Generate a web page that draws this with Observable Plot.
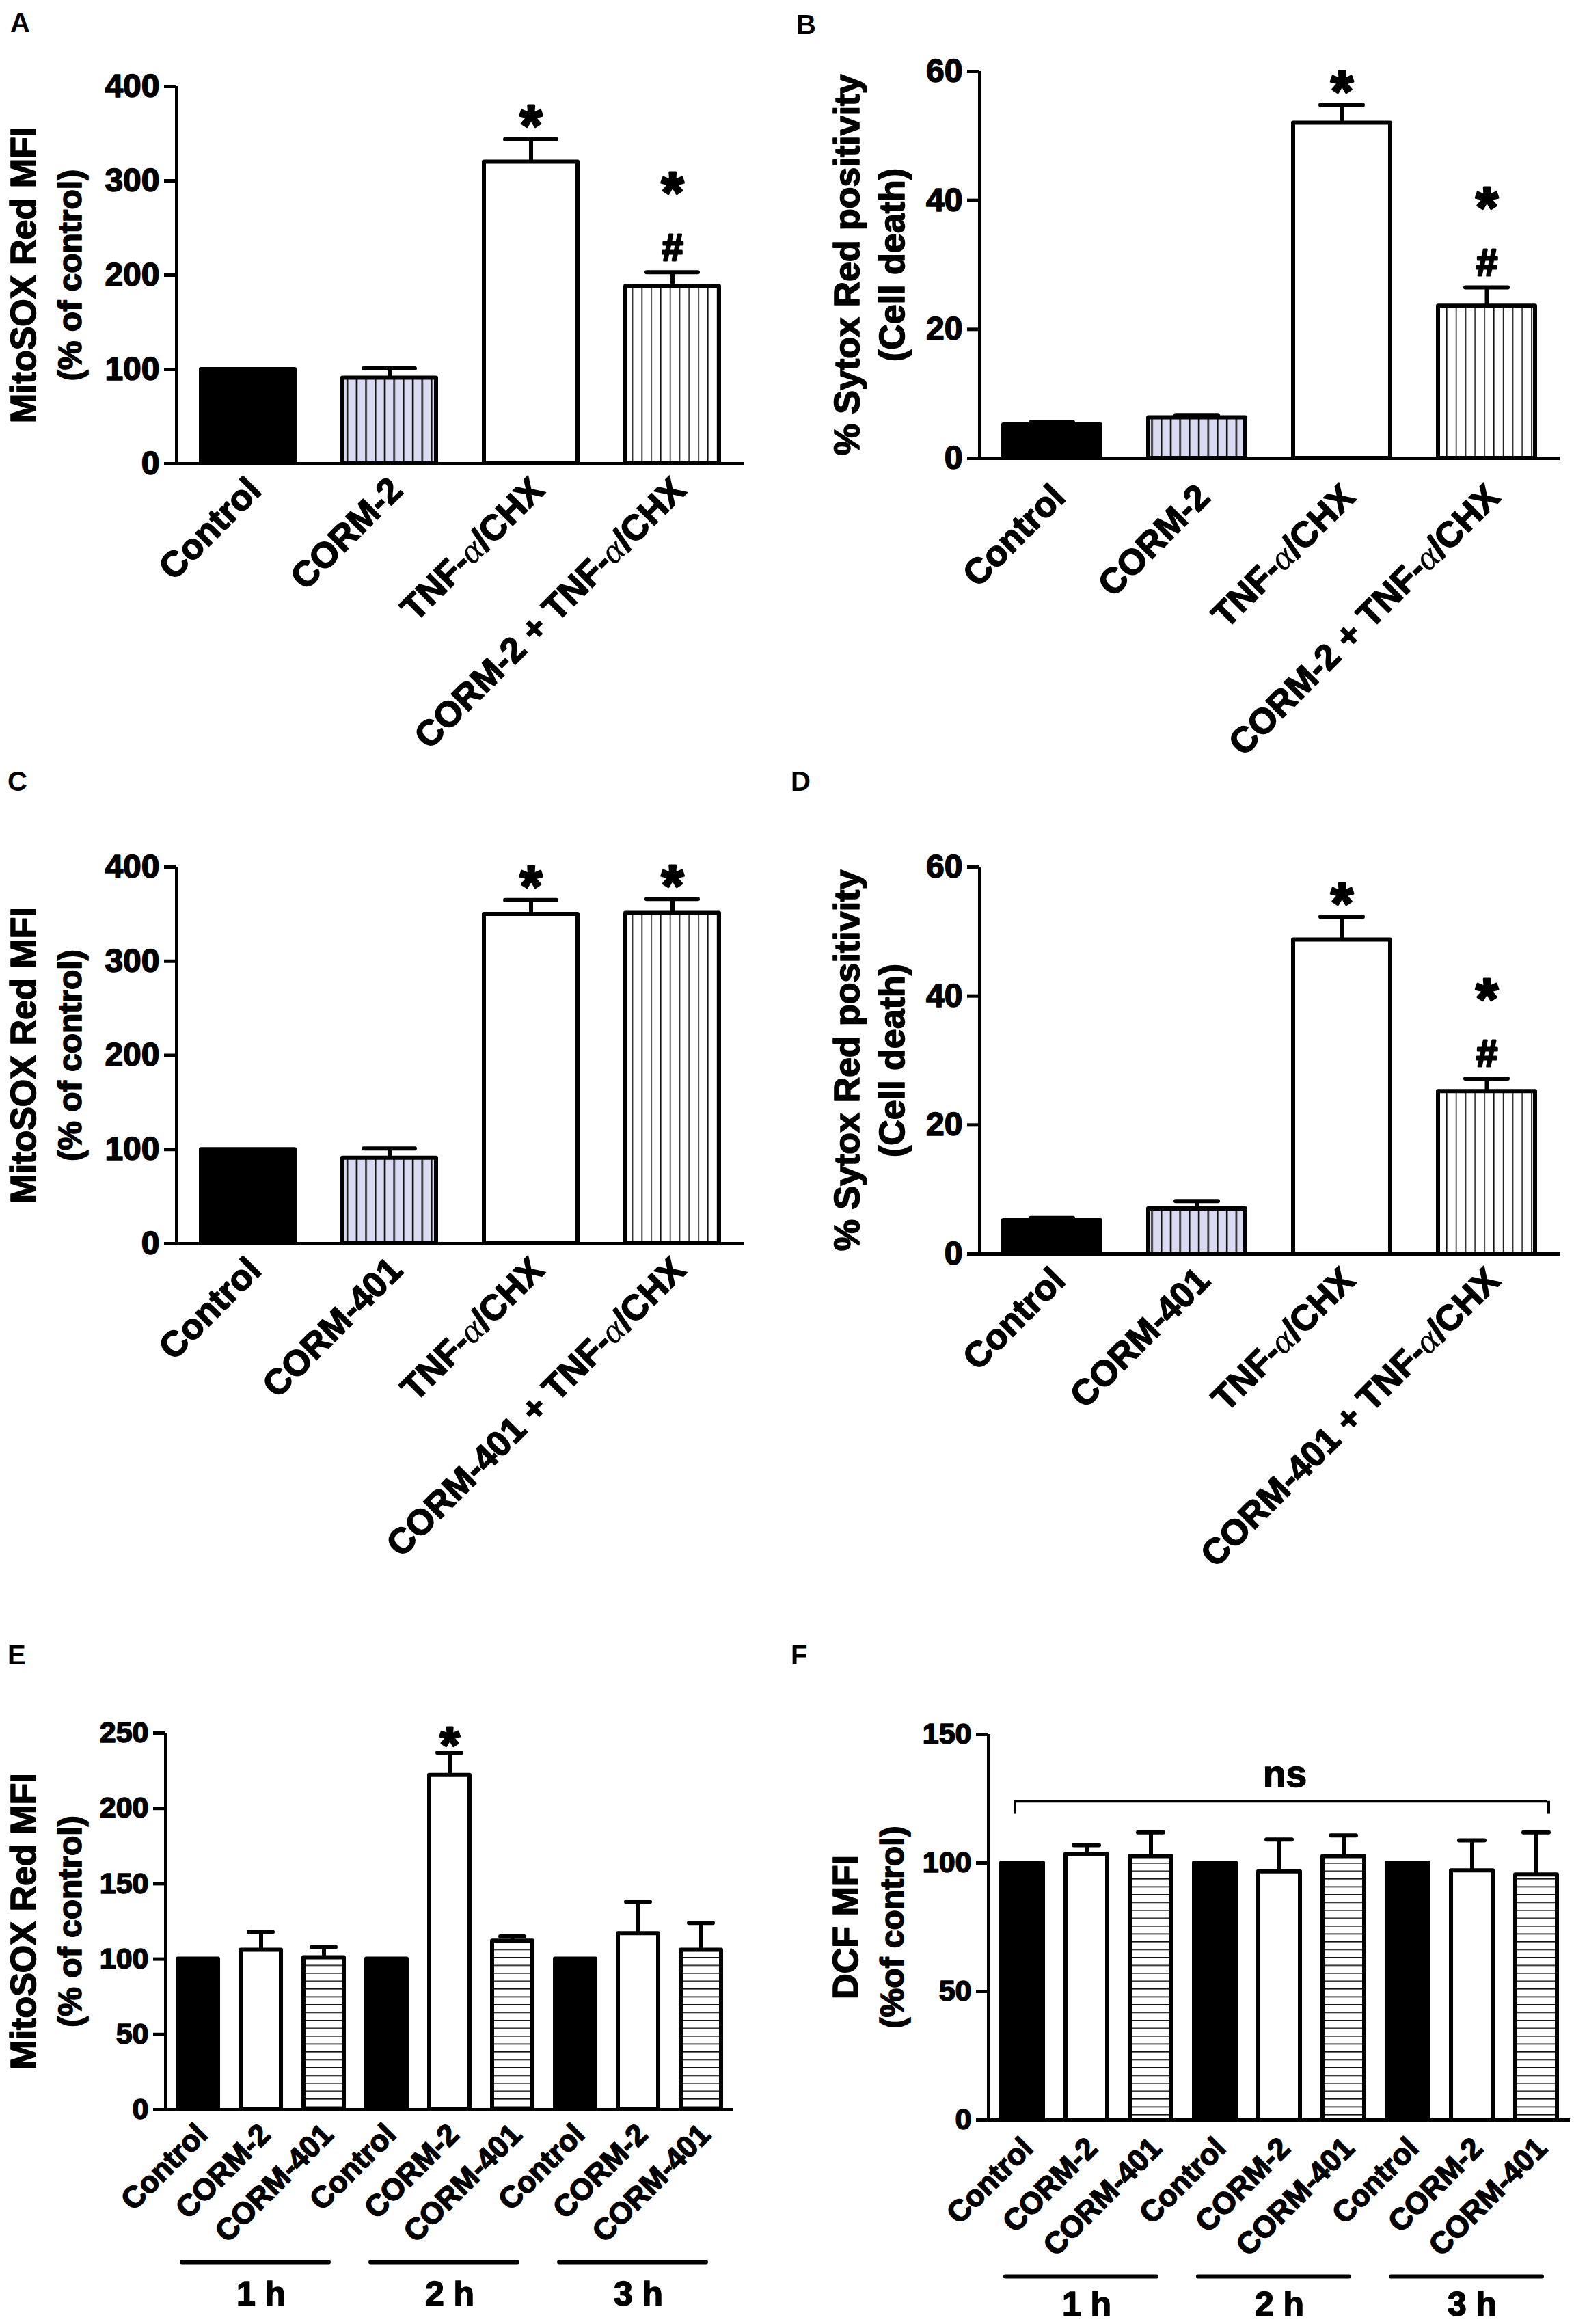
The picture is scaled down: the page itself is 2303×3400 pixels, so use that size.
<!DOCTYPE html>
<html>
<head>
<meta charset="utf-8">
<script src="https://cdn.jsdelivr.net/npm/d3@7"></script>
<script src="https://cdn.jsdelivr.net/npm/@observablehq/plot@0.6"></script>
<style>
  html, body { margin: 0; padding: 0; background: #fff; }
  #page { position: relative; width: 2303px; height: 3400px; background: #fff; overflow: hidden;
          font-family: "Liberation Sans", Arial, sans-serif; }
  .panel { position: absolute; }
  .letter { position: absolute; font-weight: bold; font-size: 40px; line-height: 1; color: #000; }
</style>
</head>
<body>
<svg width="0" height="0" style="position:absolute">
  <defs>
    <pattern id="vLav" patternUnits="userSpaceOnUse" width="13.7" height="20">
      <rect width="13.7" height="20" fill="#dadaf2"></rect>
      <rect x="0" y="0" width="2.5" height="20" fill="#111"></rect>
    </pattern>
    <pattern id="vWhite" patternUnits="userSpaceOnUse" width="13.8" height="20">
      <rect width="13.8" height="20" fill="#fff"></rect>
      <rect x="0" y="0" width="1.6" height="20" fill="#111"></rect>
    </pattern>
    <pattern id="hWhite" patternUnits="userSpaceOnUse" width="20" height="11.5">
      <rect width="20" height="11.5" fill="#fff"></rect>
      <rect x="0" y="0" width="20" height="1.6" fill="#111"></rect>
    </pattern>
  </defs>
</svg>
<div id="page"></div>
<script>
// ---------------- data ----------------
const catsA = ["Control", "CORM-2", "TNF-α/CHX", "CORM-2 + TNF-α/CHX"];
const meanA = [100, 91, 320, 188];
const errA  = [0, 10, 24, 15];
const sigA  = [[], [], ["*"], ["#", "*"]];   // listed bottom to top
const ticksA = [0, 100, 200, 300, 400];

const catsB = ["Control", "CORM-2", "TNF-α/CHX", "CORM-2 + TNF-α/CHX"];
const meanB = [5.2, 6.3, 52, 23.6];
const errB  = [0.4, 0.4, 2.8, 2.9];
const sigB  = [[], [], ["*"], ["#", "*"]];
const ticksB = [0, 20, 40, 60];

const catsC = ["Control", "CORM-401", "TNF-α/CHX", "CORM-401 + TNF-α/CHX"];
const meanC = [100, 91, 350, 351];
const errC  = [0, 10, 15, 15];
const sigC  = [[], [], ["*"], ["*"]];
const ticksC = [0, 100, 200, 300, 400];

const catsD = ["Control", "CORM-401", "TNF-α/CHX", "CORM-401 + TNF-α/CHX"];
const meanD = [5.2, 7.0, 48.7, 25.2];
const errD  = [0.4, 1.2, 3.6, 2.0];
const sigD  = [[], [], ["*"], ["#", "*"]];
const ticksD = [0, 20, 40, 60];

const timeGroups = ["1 h", "2 h", "3 h"];
const treatmentsEF = ["Control", "CORM-2", "CORM-401"];

const meanE = [100, 106, 101, 100, 222, 112, 100, 117, 106];
const errE  = [0, 12, 7, 0, 15, 3, 0, 21, 18];
const sigE  = [[], [], [], [], ["*"], [], [], [], []];
const ticksE = [0, 50, 100, 150, 200, 250];

const meanF = [100, 103.4, 102.5, 100, 96.6, 102.5, 100, 97, 95.4];
const errF  = [0, 3.5, 9.4, 0, 12.5, 8.2, 0, 11.8, 16.5];
const sigF  = [[], [], [], [], [], [], [], [], []];
const ticksF = [0, 50, 100, 150];
const nsLabelF = "ns";
const nsLevelF = 124;   // bracket height (data units)
const nsDropF = 119;    // bracket end (data units)

// ---------------- styling / layout ----------------
const FONT = "'Liberation Sans', Arial, Helvetica, sans-serif";
const fills4 = ["black", "url(#vLav)", "white", "url(#vWhite)"];
const fills9 = ["black", "white", "url(#hWhite)", "black", "white", "url(#hWhite)", "black", "white", "url(#hWhite)"];
const efKeys = timeGroups.flatMap(g => treatmentsEF.map(t => g + "|" + t));
const efLabels = timeGroups.flatMap(g => treatmentsEF);

// glyph-centre offsets (px above the error cap) for stacked symbols, keyed symbol+position
const sigCenterAD = {"*0": -38, "#0": -38, "*1": -135};
const sigCenterEF = {"*0": -28};

const panels = [
  {letter: "A", lx: 15, ly: 13, left: 0, top: 0, width: 1150, height: 1100,
   mL: 258, mR: 62, mT: 126, mB: 422, keys: catsA, labels: catsA, mean: meanA, err: errA, sig: sigA,
   ticks: ticksA, ymax: 400, fills: fills4, padding: 0.34, capInset: 31,
   titles: ["MitoSOX Red MFI", "(% of control)"], titleDx: [-223, -155], titleSize: [52, 48],
   tickFont: 48, xFont: 52, xPad: 30, xDx: 10, sigFont: {"*": 85, "#": 56}, sigCenter: sigCenterAD},
  {letter: "B", lx: 1165, ly: 16, left: 1150, top: 0, width: 1153, height: 1100,
   mL: 283, mR: 21, mT: 104, mB: 430, keys: catsB, labels: catsB, mean: meanB, err: errB, sig: sigB,
   ticks: ticksB, ymax: 60, fills: fills4, padding: 0.33, capInset: 40,
   titles: ["% Sytox Red positivity", "(Cell death)"], titleDx: [-193, -127], titleSize: [52, 52],
   tickFont: 48, xFont: 52, xPad: 48, xDx: 10, sigFont: {"*": 85, "#": 56}, sigCenter: sigCenterAD},
  {letter: "C", lx: 11, ly: 1123, left: 0, top: 1100, width: 1150, height: 1280,
   mL: 258, mR: 62, mT: 168, mB: 561, keys: catsC, labels: catsC, mean: meanC, err: errC, sig: sigC,
   ticks: ticksC, ymax: 400, fills: fills4, padding: 0.34, capInset: 31,
   titles: ["MitoSOX Red MFI", "(% of control)"], titleDx: [-223, -155], titleSize: [52, 48],
   tickFont: 48, xFont: 52, xPad: 30, xDx: 10, sigFont: {"*": 85, "#": 56}, sigCenter: sigCenterAD},
  {letter: "D", lx: 1157, ly: 1123, left: 1150, top: 1100, width: 1153, height: 1280,
   mL: 283, mR: 21, mT: 168, mB: 546, keys: catsD, labels: catsD, mean: meanD, err: errD, sig: sigD,
   ticks: ticksD, ymax: 60, fills: fills4, padding: 0.33, capInset: 40,
   titles: ["% Sytox Red positivity", "(Cell death)"], titleDx: [-193, -127], titleSize: [52, 52],
   tickFont: 48, xFont: 52, xPad: 30, xDx: 10, sigFont: {"*": 85, "#": 56}, sigCenter: sigCenterAD},
  {letter: "E", lx: 11, ly: 2401, left: 0, top: 2380, width: 1150, height: 1020,
   mL: 242, mR: 78, mT: 155, mB: 314, keys: efKeys, labels: efLabels, mean: meanE, err: errE, sig: sigE,
   ticks: ticksE, ymax: 250, fills: fills9, padding: 0.36, capInset: 12,
   titles: ["MitoSOX Red MFI", "(% of control)"], titleDx: [-207, -139], titleSize: [52, 48],
   tickFont: 43, xFont: 44, xPad: 29, xDx: 6, sigFont: {"*": 75}, sigCenter: sigCenterEF,
   groupDy: 223, groupLabelDy: 270},
  {letter: "F", lx: 1157, ly: 2401, left: 1150, top: 2380, width: 1153, height: 1020,
   mL: 296, mR: 6, mT: 157, mB: 299, keys: efKeys, labels: efLabels, mean: meanF, err: errF, sig: sigF,
   ticks: ticksF, ymax: 150, fills: fills9, padding: 0.35, capInset: 12,
   titles: ["DCF MFI", "(%of control)"], titleDx: [-208, -140], titleSize: [52, 48],
   tickFont: 43, xFont: 44, xPad: 34, xDx: 8, sigFont: {}, sigCenter: {},
   groupDy: 229, groupLabelDy: 270,
   ns: {text: nsLabelF, level: nsLevelF, drop: nsDropF, from: efKeys[0], to: efKeys[efKeys.length - 1]}}
];

const SVGNS = "http://www.w3.org/2000/svg";

// heavier text, like the reference's bold face
function thickenText(svg) {
  for (const t of svg.querySelectorAll("text")) {
    t.setAttribute("stroke", "black");
    t.setAttribute("stroke-width", "1.6");
    t.setAttribute("stroke-linejoin", "round");
  }
}

function styleAlpha(svg) {
  const walker = document.createTreeWalker(svg, NodeFilter.SHOW_TEXT);
  const nodes = [];
  while (walker.nextNode()) if (walker.currentNode.nodeValue.includes("α")) nodes.push(walker.currentNode);
  for (const n of nodes) {
    const parts = n.nodeValue.split("α");
    const frag = document.createDocumentFragment();
    parts.forEach((s, i) => {
      if (i > 0) {
        const ts = document.createElementNS(SVGNS, "tspan");
        ts.setAttribute("font-family", "'Liberation Serif', 'DejaVu Serif', serif");
        ts.setAttribute("font-style", "italic");
        ts.setAttribute("font-weight", "normal");
        ts.setAttribute("stroke-width", "0.4");
        ts.textContent = "α";
        frag.appendChild(ts);
      }
      if (s) frag.appendChild(document.createTextNode(s));
    });
    n.parentNode.replaceChild(frag, n);
  }
}

// lay out the stacked significance symbols of one text element with their own sizes
function styleSig(svg, p) {
  for (const t of svg.querySelectorAll("text")) {
    const s = t.textContent;
    if (!/^[*#]+$/.test(s)) continue;
    const syms = [...s].reverse(); // bottom to top
    t.removeAttribute("dy");
    t.removeAttribute("y");
    while (t.firstChild) t.removeChild(t.firstChild);
    syms.forEach((sym, k) => {
      const fs = p.sigFont[sym];
      const center = p.sigCenter[sym + k];
      const base = center + (sym === "*" ? 0.56 : 0.36) * fs;
      const ts = document.createElementNS(SVGNS, "tspan");
      ts.setAttribute("x", 0);
      ts.setAttribute("y", base.toFixed(1));
      ts.setAttribute("font-size", fs);
      ts.setAttribute("stroke-width", "3");
      ts.textContent = sym;
      t.appendChild(ts);
    });
  }
}

const page = document.getElementById("page");

for (const p of panels) {
  const rows = p.keys.map((k, i) => ({key: k, label: p.labels[i], mean: p.mean[i], err: p.err[i],
    fill: p.fills[i], sig: p.sig[i]}));
  const labelOf = new Map(rows.map(r => [r.key, r.label]));
  const fw = p.width - p.mL - p.mR;
  const marks = [];

  // bars, one mark per fill style
  for (const f of [...new Set(p.fills)]) {
    marks.push(Plot.barY(rows.filter(r => r.fill === f), {
      x: "key", y: "mean", fill: f, stroke: "black", strokeWidth: 6, strokeLinejoin: "round"
    }));
  }
  // error bars (upper only)
  const er = rows.filter(r => r.err > 0);
  marks.push(Plot.ruleX(er, {x: "key", y1: "mean", y2: r => r.mean + r.err, stroke: "black", strokeWidth: 6}));
  marks.push(Plot.tickY(er, {x: "key", y: r => r.mean + r.err, stroke: "black", strokeWidth: 6,
    strokeLinecap: "round", insetLeft: p.capInset, insetRight: p.capInset}));

  // significance symbols (one text per bar, symbols stacked)
  const sigRows = rows.filter(r => r.sig.length > 0);
  if (sigRows.length) {
    marks.push(Plot.text(sigRows, {x: "key", y: r => r.mean + r.err, text: r => [...r.sig].reverse().join(""),
      fontSize: 58, fontWeight: "bold", lineAnchor: "bottom"}));
  }

  // axes
  marks.push(Plot.ruleY([0], {stroke: "black", strokeWidth: 5}));
  marks.push(Plot.ruleX([p.ymax], {x: null, y1: 0, y2: d => d, dx: -fw / 2, stroke: "black", strokeWidth: 5}));
  marks.push(Plot.axisY({ticks: p.ticks, tickSize: 18, tickPadding: 7, strokeWidth: 5, label: null,
    fontSize: p.tickFont, fontWeight: "bold", tickFormat: d => String(d)}));
  marks.push(Plot.axisX({tickSize: 0, tickPadding: p.xPad, tickRotate: -45, dx: p.xDx, label: null,
    fontSize: p.xFont, fontWeight: "bold", tickFormat: k => labelOf.get(k)}));

  // y titles (two rotated lines)
  p.titles.forEach((t, i) => {
    marks.push(Plot.text([t], {text: d => d, frameAnchor: "left", textAnchor: "middle", rotate: -90,
      dx: p.titleDx[i], fontSize: p.titleSize[i], fontWeight: "bold", lineAnchor: "middle"}));
  });

  // time group brackets for E/F
  if (p.groupDy) {
    const groups = timeGroups.map(g => ({name: g, first: g + "|" + treatmentsEF[0],
      mid: g + "|" + treatmentsEF[1], last: g + "|" + treatmentsEF[2]}));
    marks.push(Plot.ruleY(groups, {y: d => 0, x1: "first", x2: "last", dy: p.groupDy,
      insetLeft: 6, insetRight: 22, stroke: "black", strokeWidth: 6, strokeLinecap: "round"}));
    marks.push(Plot.text(groups, {x: "mid", y: d => 0, text: "name", dy: p.groupLabelDy,
      fontSize: 50, fontWeight: "bold", lineAnchor: "middle"}));
  }

  // ns bracket
  if (p.ns) {
    const ns = [p.ns];
    marks.push(Plot.ruleY(ns, {y: "level", x1: "from", x2: "to", insetLeft: 19, insetRight: 15,
      stroke: "black", strokeWidth: 4}));
    marks.push(Plot.ruleX(ns, {x: "from", y1: "drop", y2: "level", dx: -11, stroke: "black", strokeWidth: 4}));
    marks.push(Plot.ruleX(ns, {x: "to", y1: "drop", y2: "level", dx: 18, stroke: "black", strokeWidth: 4}));
    marks.push(Plot.text(ns, {y: "level", text: "text", dy: -39, dx: 8, fontSize: 55, fontWeight: "bold",
      lineAnchor: "middle"}));
  }

  const svg = Plot.plot({
    width: p.width, height: p.height,
    marginLeft: p.mL, marginRight: p.mR, marginTop: p.mT, marginBottom: p.mB,
    x: {type: "band", domain: p.keys, paddingInner: p.padding, paddingOuter: p.padding / 2, align: 0.5},
    y: {domain: [0, p.ymax]},
    style: {fontFamily: FONT, fontSize: "48px", fontWeight: "bold", color: "black",
      background: "transparent", overflow: "visible"},
    marks
  });
  thickenText(svg);
  styleAlpha(svg);
  styleSig(svg, p);
  const div = document.createElement("div");
  div.className = "panel";
  div.style.left = p.left + "px";
  div.style.top = p.top + "px";
  div.style.width = p.width + "px";
  div.style.height = p.height + "px";
  div.appendChild(svg);
  page.appendChild(div);

  const L = document.createElement("div");
  L.className = "letter";
  L.style.left = p.lx + "px";
  L.style.top = p.ly + "px";
  L.textContent = p.letter;
  page.appendChild(L);
}
</script>
</body>
</html>
